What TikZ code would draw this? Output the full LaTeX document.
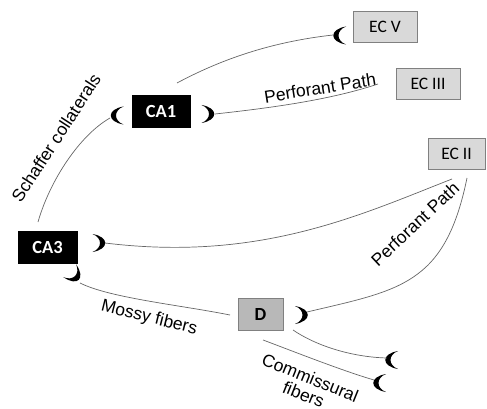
\documentclass[tikz,border=0pt]{standalone}
\usepackage{fontspec}
\setmainfont{Liberation Sans}
\newfontfamily\boxfont{Carlito}
\begin{document}
\begin{tikzpicture}[x=1pt,y=-1pt,
 cell/.style={draw=black, fill=black, text=white, font=\boxfont\bfseries\fontsize{18.5}{20}\selectfont, minimum height=32pt, inner sep=0pt},
 ecbox/.style={draw=black!50, fill=black!15, font=\boxfont\fontsize{17.5}{20}\selectfont, minimum height=31pt, inner sep=0pt, line width=0.8pt},
 dbox/.style={draw=black!50, fill=black!28, font=\boxfont\bfseries\fontsize{18.5}{20}\selectfont, minimum height=32pt, inner sep=0pt, line width=0.8pt},
 fiber/.style={draw=black!60, line width=0.7pt},
 lbl/.style={font=\fontsize{17.5}{18}\selectfont, inner sep=0pt},
 moon/.pic={\fill[black] (-6pt,9pt) .. controls (11pt,6pt) and (11pt,-6pt) .. (-6pt,-9pt) .. controls (4pt,-5pt) and (4pt,5pt) .. cycle;}
]
\useasboundingbox (0,0) rectangle (487,409);

% boxes
\node[cell, minimum width=58pt] (ca1) at (161,111) {CA1};
\node[cell, minimum width=59pt] (ca3) at (47.5,247) {CA3};
\node[dbox, minimum width=45pt] (d) at (260.5,314) {D};
\node[ecbox, minimum width=64pt] (ec5) at (385,26.5) {EC V};
\node[ecbox, minimum width=64pt] (ec3) at (428,83.5) {EC III};
\node[ecbox, minimum width=57pt] (ec2) at (456.5,153.5) {EC II};

% crescents
\pic[rotate=180] at (117.5,115.5) {moon};
\pic at (207.5,114) {moon};
\pic[rotate=180] at (340,35.5) {moon};
\pic at (98.5,243) {moon};
\pic[rotate=-45] at (74,275) {moon};
\pic at (301,315) {moon};
\pic[rotate=180] at (392,360) {moon};
\pic[rotate=180] at (380,383) {moon};

% connector end points
\coordinate (ca1L) at (110,118);
\coordinate (ca1T) at (177,83);
\coordinate (ca1R) at (215,114);
\coordinate (ec5L) at (333,35);
\coordinate (pp1E) at (378,84);
\coordinate (ca3Sc) at (38,222);
\coordinate (ca3R) at (105,243);
\coordinate (ec2A) at (452,179);
\coordinate (ec2B) at (467,178);
\coordinate (dR) at (307,312);
\coordinate (ca3B) at (80,283);
\coordinate (dL) at (230,315);
\coordinate (dB1) at (293,330);
\coordinate (dB2) at (263,340);
\coordinate (cm1) at (387,358);
\coordinate (cm2) at (374,380);

% connectors
\draw[fiber] (ca1L) .. controls (80,135) and (50,180) .. (ca3Sc);
\draw[fiber] (ca1T) .. controls (220,60) and (270,42) .. (ec5L);
\draw[fiber] (ca1R) .. controls (270,108) and (330,100) .. (pp1E);
\draw[fiber] (ca3R) .. controls (260,262) and (360,215) .. (ec2A);
\draw[fiber] (ec2B) .. controls (445,285) and (400,290) .. (dR);
\draw[fiber] (ca3B) .. controls (110,298) and (180,305) .. (dL);
\draw[fiber] (dB1) .. controls (315,345) and (350,357) .. (cm1);
\draw[fiber] (dB2) .. controls (290,350) and (340,370) .. (cm2);

% labels
\node[lbl, rotate=57] (sc) at (56,138) {Schaffer collaterals};
\node[lbl, rotate=9] (pp1) at (320,88) {Perforant Path};
\node[lbl, rotate=43] (pp2) at (415,224) {Perforant Path};
\node[lbl, rotate=-14] (mf) at (149,318) {Mossy fibers};
\node[lbl, rotate=-22, align=center] (cf) at (307,386) {Commissural\\fibers};
\end{tikzpicture}
\end{document}
